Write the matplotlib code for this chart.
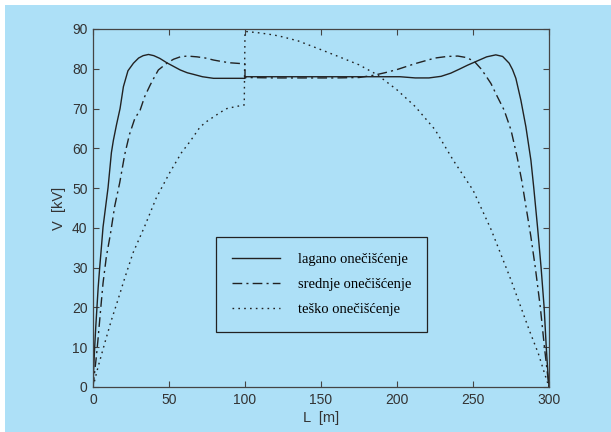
import matplotlib
matplotlib.use('Agg')
import matplotlib.pyplot as plt
from matplotlib.patches import Rectangle
import numpy as np

# lagano oneciscenje (solid)
x_lagano = [0, 0.5, 1.1, 1.8, 2.6, 3.4, 4.4, 5.5, 6.6, 8.2, 9.9, 12.1, 13.4, 15.5, 17.8,
            20, 23, 26.6, 30, 33, 36.5, 40, 44, 48.6, 53, 57.4, 62, 66.1, 72, 79.3, 90, 100,
            100, 130, 160, 190, 202, 212, 221, 229, 235.4, 241, 246.4, 253, 259, 265,
            269.5, 273.8, 276, 278.2, 281.5, 284.8, 288.1, 290, 292.5, 294.8, 296.8,
            298.2, 299.2, 300]
y_lagano = [0, 5, 10, 15, 20, 25, 30, 35, 40.2, 45, 50.1, 58.9, 62, 66, 70,
            75.5, 79.5, 81.4, 82.7, 83.3, 83.6, 83.3, 82.6, 81.5, 80.6, 79.7, 79.0, 78.6, 78.0, 77.6, 77.6, 77.6,
            78.0, 78.0, 78.0, 78.0, 78.0, 77.7, 77.7, 78.1, 78.9, 79.9, 80.9, 82.0, 83.0, 83.5,
            83.1, 81.4, 79.8, 77.6, 72.1, 65.4, 57, 50, 40, 30, 20, 10, 4, 0]

# srednje oneciscenje (dash-dot)
x_srednje = [0, 1, 2.2, 3.3, 4.4, 5.5, 6.6, 8.8, 11.4, 14.3, 17.6, 20.9, 24, 27.5, 31, 34,
             37.6, 40.5, 43, 48.6, 53, 57.4, 62, 68.4, 74, 79.3, 85, 90.3, 97.7, 100,
             100, 120, 140, 160, 175, 185, 192, 200, 212, 225, 233, 240, 246, 251, 255,
             258, 261.8, 266, 270.5, 275, 279, 282, 285, 288, 291, 294.3, 297, 298.8, 300]
y_srednje = [0, 3.5, 7.6, 12, 16.8, 21.5, 26.1, 32.8, 38.3, 45.5, 51.4, 58.5, 63.5, 67.5, 69.6, 73,
             75.9, 78, 79.7, 81.4, 82.4, 83, 83.2, 83, 82.7, 82.2, 81.8, 81.5, 81.3, 81.2,
             77.8, 77.7, 77.7, 77.7, 77.8, 78.4, 79.0, 79.8, 81.3, 82.7, 83.1, 83.2, 82.8, 81.8, 80.1,
             78.5, 76.3, 73, 69.6, 64.6, 57.9, 52, 45, 38, 30, 20, 10, 4, 0]

# tesko oneciscenje (dotted)
x_tesko = [0, 3.3, 7.7, 12.1, 16.4, 20.9, 26.3, 34, 41.7, 50.5, 58.2, 64, 70.5, 75, 79.3, 84,
           88.1, 94, 99.5,
           100, 110, 118.9, 125, 135, 150, 162, 175, 187, 200, 212, 225, 237, 250, 262,
           275, 287, 293, 297, 300]
y_tesko = [0, 5, 11, 16.8, 21.9, 27.4, 33.7, 40.4, 47.6, 53.9, 58.9, 61.8, 65.4, 66.8, 67.9, 69.1,
           70, 70.5, 70.9,
           89.4, 89, 88.5, 88, 87, 84.8, 83, 81, 78.5, 74.7, 70.5, 64.7, 57, 49.5, 39.5,
           26.9, 14.3, 8.4, 3.5, 0]

labels = ['lagano onečišćenje', 'srednje onečišćenje', 'teško onečišćenje']
x_ticks = [0, 50, 100, 150, 200, 250, 300]
y_ticks = [0, 10, 20, 30, 40, 50, 60, 70, 80, 90]

bg = '#ade0f7'
ink = '#222222'

fig = plt.figure(figsize=(6.11, 4.32), dpi=100, facecolor='white')
fig.patches.append(Rectangle((5 / 611, 0), 1, 1 - 5 / 432, transform=fig.transFigure,
                             facecolor=bg, edgecolor='none', zorder=-10))
ax = fig.add_axes([93 / 611, 45 / 432, 456 / 611, 358 / 432])
ax.set_facecolor(bg)

ax.plot(x_lagano, y_lagano, color=ink, lw=1.0, ls='-', label=labels[0])
ax.plot(x_srednje, y_srednje, color=ink, lw=1.0, ls=(0, (7, 3, 1.5, 3)), label=labels[1])
ax.plot(x_tesko, y_tesko, color=ink, lw=1.0, ls=(0, (1.2, 3)), label=labels[2])

ax.set_xlim(0, 300)
ax.set_ylim(0, 90)
ax.set_xticks(x_ticks)
ax.set_yticks(y_ticks)
ax.tick_params(direction='in', top=True, right=True, length=4, width=0.8,
               colors='#444444', labelcolor='#333333', labelsize=10, pad=4)
for lbl in ax.get_xticklabels() + ax.get_yticklabels():
    lbl.set_family('Liberation Sans')
for sp in ax.spines.values():
    sp.set_color('#444444')
    sp.set_linewidth(0.9)

ax.set_xlabel('L  [m]', family='Liberation Sans', fontsize=10.5, color='#333333', labelpad=3)
ax.set_ylabel('V  [kV]', family='Liberation Sans', fontsize=10.5, color='#333333', labelpad=4)

leg = ax.legend(loc='lower left', bbox_to_anchor=(123 / 456, 55 / 358), frameon=True,
                fancybox=False, framealpha=1, facecolor=bg, edgecolor=ink,
                prop={'family': 'Liberation Serif', 'size': 10.5},
                handlelength=3.3, handletextpad=1.2, labelspacing=0.8,
                borderpad=1.1, borderaxespad=0)
leg.get_frame().set_linewidth(0.9)

fig.savefig('out.png', dpi=100, facecolor=fig.get_facecolor())
